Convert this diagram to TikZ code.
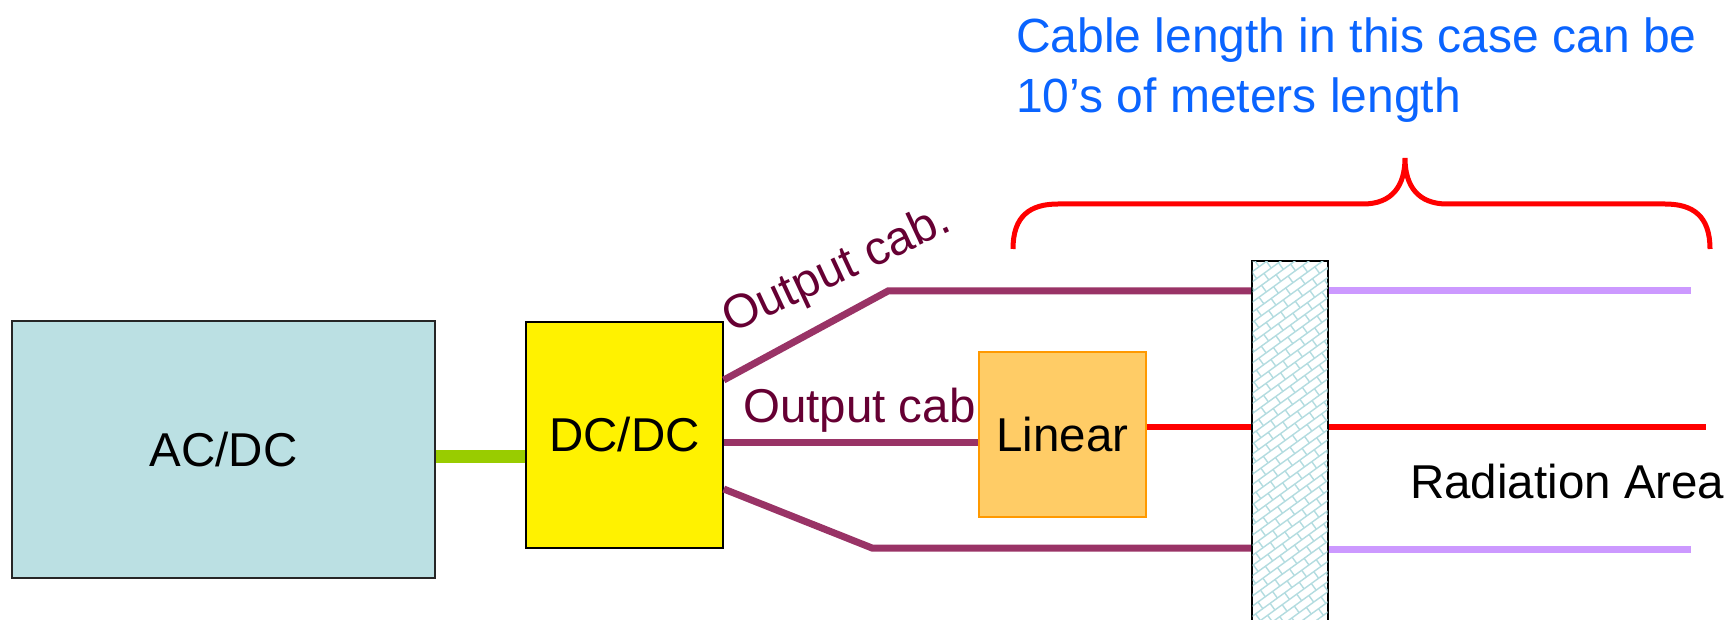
\documentclass[tikz,border=0pt]{standalone}
\usepackage{fontspec}
\setmainfont{Liberation Sans}
\definecolor{acdcc}{HTML}{BBE0E3}
\definecolor{linf}{HTML}{FFCC66}
\definecolor{linb}{HTML}{FF9900}
\definecolor{greenc}{HTML}{99CC00}
\definecolor{cablec}{HTML}{993366}
\definecolor{lavc}{HTML}{CC99FF}
\definecolor{labc}{HTML}{660033}
\definecolor{bluec}{HTML}{0A64FF}
\definecolor{patc}{HTML}{B3DCE0}
\begin{document}
\begin{tikzpicture}[x=1pt,y=-1pt,
  every node/.style={font=\fontsize{47.5}{56}\selectfont, inner sep=0pt},
  box/.style={draw=#1, line width=1.5pt},
  cable/.style={line width=7pt, draw=cablec},
  greenl/.style={line width=13pt, draw=greenc},
  redl/.style={line width=6.5pt, draw=red},
  lav/.style={line width=7pt, draw=lavc},
  brace/.style={line width=5pt, draw=red},
  patline/.style={draw=patc, line width=1.4pt},
  lbl/.style={text=labc}]
\useasboundingbox (0,0) rectangle (1725,620);

% boxes
\node[box=black!85, fill=acdcc, minimum width=423pt, minimum height=257pt] (acdc) at (223.5,449.5) {AC/DC};
\node[box=black, fill=yellow, minimum width=197pt, minimum height=226pt] (dcdc) at (624.5,435) {DC/DC};
\node[box=linb, line width=1.2pt, fill=linf, minimum width=167pt, minimum height=165pt] (linear) at (1062.5,434.5) {Linear};
\node[draw=black, line width=2.2pt, fill=white, minimum width=76pt, minimum height=372pt] (wall) at (1290,447) {};

% brick pattern of the wall
\begin{scope}
  \clip ([xshift=1.6pt,yshift=-1.6pt]wall.north west) rectangle ([xshift=-1.6pt,yshift=1.6pt]wall.south east);
  \begin{scope}[shift={(wall.center)}, rotate=36]
    \foreach \k in {-28,...,28}{
      \draw[patline] (-230,\k*8.2) -- (230,\k*8.2);
      \pgfmathsetmacro{\off}{mod(abs(\k),2)*9}
      \foreach \j in {-13,...,13}{
        \draw[patline] (\j*18+\off,\k*8.2) -- (\j*18+\off,\k*8.2+8.2);
      }
    }
  \end{scope}
\end{scope}

% helper coordinates
\coordinate (gy) at (0,456);
\coordinate (ta) at (0,380);
\coordinate (t1) at (888,291);
\coordinate (mid) at (0,442);
\coordinate (ba) at (0,489);
\coordinate (b1) at (872,548);
\coordinate (r) at (0,427);
\coordinate (rend) at (1706,427);
\coordinate (tend) at (1691,291);
\coordinate (lb) at (0,549);
\coordinate (bend) at (1691,549);

% connectors
\draw[greenl] (acdc.east |- gy) -- (dcdc.west |- gy);
\draw[cable] (dcdc.east |- ta) -- (t1) -- (wall.west |- t1);
\draw[cable] (dcdc.east |- mid) -- (linear.west |- mid);
\draw[cable] (dcdc.east |- ba) -- (b1) -- (wall.west |- b1);
\draw[redl] (linear.east |- r) -- (wall.west |- r);
\draw[redl] (wall.east |- r) -- (rend);
\draw[lav] (wall.east |- t1) -- (tend);
\draw[lav] (wall.east |- lb) -- (bend);

% brace
\coordinate (bl) at (1013,249);
\coordinate (bt) at (1405,158);
\coordinate (br) at (1710,249);
\draw[brace] (bl) .. controls (1013,216) and (1030,204) .. (1058,204) -- (1363,204)
  .. controls (1392,204) and (1405,186) .. (bt)
  .. controls (1405,186) and (1418,204) .. (1447,204) -- (1665,204)
  .. controls (1693,204) and (1710,216) .. (br);

% labels
\node[lbl, rotate=25, anchor=base west] (out1) at (731,334) {Output cab.};
\node[lbl, anchor=base west] (out2) at (743,422) {Output cab};
\node[anchor=base west] (rad) at (1410,498) {Radiation Area};
\node[text=bluec, font=\fontsize{48}{56}\selectfont, anchor=base west] (cab1) at (1016,53) {Cable length in this case can be};
\node[text=bluec, font=\fontsize{48}{56}\selectfont, anchor=base west] (cab2) at (1016,113) {10’s of meters length};
\end{tikzpicture}
\end{document}
